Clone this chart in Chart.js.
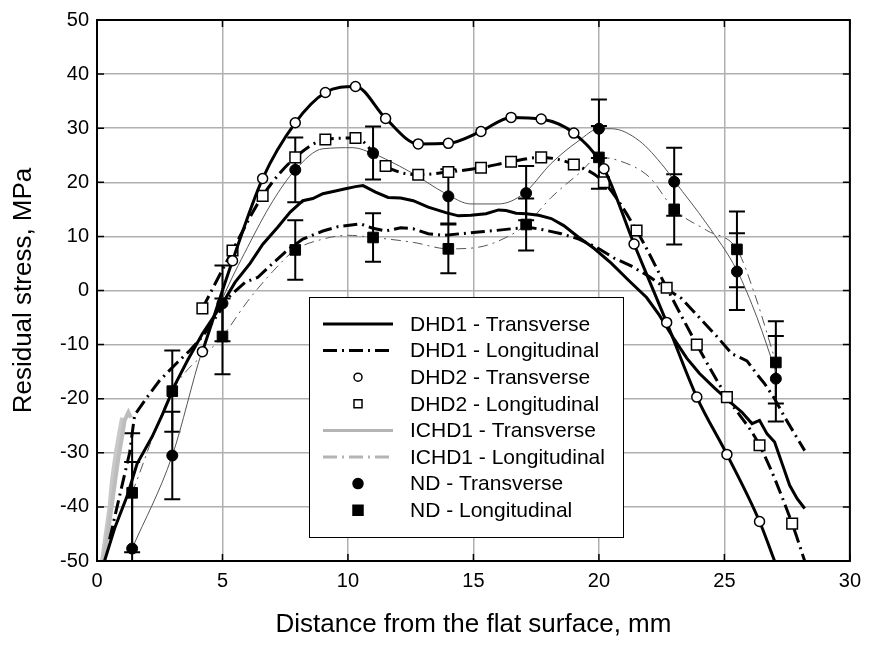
<!DOCTYPE html>
<html>
<head>
<meta charset="utf-8">
<script src="https://cdn.jsdelivr.net/npm/chart.js@4"></script>
<style>
html, body { margin: 0; padding: 0; background: #fff; }
</style>
</head>
<body>
<canvas id="myChart" width="869" height="648"></canvas>
<script>
// values (x = distance, mm; y = residual stress, MPa)
const dhd1TransX = [0.3, 0.7, 1.2, 1.6, 2.2, 2.6, 3.1, 3.6, 4.2, 5, 5.5, 6.1, 6.6, 7.2, 7.7, 8.2, 8.6, 9, 9.5, 9.9, 10.3, 10.6, 11.1, 11.6, 12.1, 12.6, 13.2, 13.9, 14.4, 14.9, 15.5, 16, 16.3, 16.7, 17.1, 17.6, 18.1, 18.6, 19.2, 19.8, 20.5, 21.2, 21.9, 22.4, 23, 23.5, 24, 24.6, 25.3, 25.7, 26.1, 26.4, 26.7, 27, 27.3, 27.6, 27.9, 28.2];
const dhd1TransY = [-50, -44, -38, -32, -27, -23, -17.5, -13, -8, -2.4, 1.5, 5, 8.5, 11.7, 14.5, 16.6, 17, 17.9, 18.4, 18.8, 19.2, 19.4, 18.2, 17.2, 17.1, 16.6, 15.4, 14.4, 13.8, 13.9, 14.2, 14.9, 14.8, 14.3, 14.2, 13.9, 13.3, 12, 9.8, 7.8, 5, 1.8, -1.3, -4.5, -9, -12.5, -15.3, -18, -20.9, -22.5, -24.6, -24, -26.5, -28, -32, -36, -38.5, -40.3];

const dhd1LongX = [0.5, 0.9, 1.3, 1.5, 2, 2.5, 3.2, 3.7, 4.2, 4.8, 5.3, 5.9, 6.4, 7, 7.6, 8.2, 9, 9.6, 10.5, 11, 11.5, 12.1, 12.6, 13.2, 13.8, 14.5, 15.2, 15.9, 16.5, 17.2, 17.8, 18.5, 19.2, 19.9, 20.6, 21.3, 22, 22.6, 23.3, 24, 24.7, 25.3, 25.9, 26.3, 26.6, 27, 27.4, 27.8, 28.2];
const dhd1LongY = [-46, -38, -30, -23, -19.7, -16.6, -13.3, -11.1, -8.5, -4.5, -1, 1.5, 2.4, 5, 7.5, 9.5, 11, 11.8, 12.3, 11.5, 11, 11.6, 11.4, 10.5, 10.2, 10.5, 10.8, 11.1, 11.4, 11.7, 11.2, 10.5, 9.5, 8, 6, 4.5, 2.6, 0.6, -1.5, -5, -8.5, -11.7, -13, -15.5, -17.2, -20, -23.4, -26.5, -29.6];

const dhd2TransX = [4.2, 5.4, 6.6, 7.9, 9.1, 10.3, 11.5, 12.8, 14, 15.3, 16.5, 17.7, 19, 20.2, 21.4, 22.7, 23.9, 25.1, 26.4, 27];
const dhd2TransY = [-11.3, 5.5, 20.7, 31, 36.6, 37.7, 31.8, 27.1, 27.2, 29.4, 32, 31.7, 29.1, 22.5, 8.6, -5.9, -19.7, -30.3, -42.7, -50];

const dhd2LongX = [4.2, 5.4, 6.6, 7.9, 9.1, 10.3, 11.5, 12.8, 14, 15.3, 16.5, 17.7, 19, 20.2, 21.5, 22.7, 23.9, 25.1, 26.4, 27.7, 28.2];
const dhd2LongY = [-3.3, 7.4, 17.5, 24.6, 27.9, 28.2, 23, 21.4, 21.9, 22.7, 23.8, 24.6, 23.3, 20, 11.1, 0.5, -10, -19.7, -28.6, -43.1, -50];

const ichd1TransX = [1.4, 3, 4.2, 5, 6, 7, 7.9, 9, 10.2, 11, 11.5, 12.6, 13.9, 14.9, 16, 17, 18.1, 19.2, 20, 20.5, 21.6, 22.6, 23, 24.3, 25.5, 26.3, 27.05];
const ichd1TransY = [-47.7, -30.5, -11, -1.5, 8, 16.5, 22.3, 26.2, 26.4, 25.3, 24.3, 21.6, 17.9, 16, 16, 17.9, 23.5, 27.7, 29.9, 29.9, 27.7, 22.8, 20.3, 12.3, 3.7, -5, -15];

const ichd1LongX = [1.4, 3, 5, 6, 7, 7.9, 9, 10, 11, 12.6, 14, 15.2, 16.3, 17.1, 18.1, 19.2, 20, 20.8, 22, 23, 24.3, 25.5, 26.2, 27.05];
const ichd1LongY = [-37.4, -18.6, -8.5, -2, 3.5, 7.5, 9.5, 10.2, 9.8, 8.9, 7.7, 8, 9.8, 12.2, 17.2, 21.6, 24.6, 24, 21, 15, 11.1, 7.6, -0.6, -13.3];

// thick grey start of the ICHD1 curves near the surface
const ichd1TransStartX = [0.25, 0.4, 0.55, 0.7, 0.85, 1, 1.1, 1.25, 1.35];
const ichd1TransStartY = [-50, -46, -41, -36, -31, -27, -24, -22.5, -23.5];
const ichd1LongStartX = [0.2, 0.35, 0.5, 0.6, 0.75, 0.9, 1];
const ichd1LongStartY = [-50, -45, -40, -35, -30, -26, -23.5];

const ndX = [1.4, 3, 5, 7.9, 11, 14, 17.1, 20, 23, 25.5, 27.05];
const ndTrans = [-47.7, -30.5, -2.4, 22.3, 25.4, 17.4, 18, 29.9, 20.1, 3.5, -16.3];
const ndTransErr = [16, 8.1, 7, 6, 4.9, 5, 5, 5.4, 6.3, 7.1, 7.9];
const ndLong = [-37.4, -18.6, -8.5, 7.5, 9.8, 7.7, 12.2, 24.6, 15, 7.6, -13.3];
const ndLongErr = [11, 7.5, 7, 5.5, 4.5, 4.5, 4.8, 5.8, 6.5, 7, 7.6];

const seriesNames = ['DHD1 - Transverse', 'DHD1 - Longitudinal', 'DHD2 - Transverse', 'DHD2 - Longitudinal',
    'ICHD1 - Transverse', 'ICHD1 - Longitudinal', 'ND - Transverse', 'ND - Longitudinal'];

const xTicks = [0, 5, 10, 15, 20, 25, 30];
const yTicks = [-50, -40, -30, -20, -10, 0, 10, 20, 30, 40, 50];

function pts(xs, ys) {
    return xs.map((x, i) => ({ x: x, y: ys[i] }));
}

const dashDot = [14, 5, 2, 5];
const thinDashDot = [10, 5, 2, 5];
const fontName = '"Liberation Sans", Arial, sans-serif';

// error bars for the ND points
const errorBars = {
    id: 'errorBars',
    beforeDatasetsDraw(chart) {
        const ctx = chart.ctx;
        const xs = chart.scales.x, ys = chart.scales.y;
        const area = chart.chartArea;
        ctx.save();
        ctx.beginPath();
        ctx.rect(area.left, area.top, area.right - area.left, area.bottom - area.top);
        ctx.clip();
        ctx.strokeStyle = '#000';
        ctx.lineWidth = 2;
        const sets = [[ndTrans, ndTransErr], [ndLong, ndLongErr]];
        sets.forEach(function (s) {
            ndX.forEach(function (x, i) {
                const px = xs.getPixelForValue(x);
                const top = ys.getPixelForValue(s[0][i] + s[1][i]);
                const bot = ys.getPixelForValue(s[0][i] - s[1][i]);
                ctx.beginPath();
                ctx.moveTo(px, top); ctx.lineTo(px, bot);
                ctx.moveTo(px - 8, top); ctx.lineTo(px + 8, top);
                ctx.moveTo(px - 8, bot); ctx.lineTo(px + 8, bot);
                ctx.stroke();
            });
        });
        ctx.restore();
    }
};

// frame, inner ticks and the boxed legend
const frameAndLegend = {
    id: 'frameAndLegend',
    afterDraw(chart) {
        const ctx = chart.ctx;
        const a = chart.chartArea;
        const xs = chart.scales.x, ys = chart.scales.y;
        ctx.save();
        ctx.strokeStyle = '#000';
        ctx.lineWidth = 1.5;
        ctx.beginPath();
        xTicks.forEach(function (v) {
            const px = xs.getPixelForValue(v);
            ctx.moveTo(px, a.bottom); ctx.lineTo(px, a.bottom - 7);
            ctx.moveTo(px, a.top); ctx.lineTo(px, a.top + 7);
        });
        yTicks.forEach(function (v) {
            const py = ys.getPixelForValue(v);
            ctx.moveTo(a.left, py); ctx.lineTo(a.left + 7, py);
            ctx.moveTo(a.right, py); ctx.lineTo(a.right - 7, py);
        });
        ctx.stroke();
        ctx.lineWidth = 2;
        ctx.strokeRect(a.left, a.top, a.right - a.left, a.bottom - a.top);

        // legend box
        const bx = a.left + 212, by = a.top + 277, bw = 314, bh = 240;
        ctx.fillStyle = '#fff';
        ctx.fillRect(bx, by, bw, bh);
        ctx.lineWidth = 1;
        ctx.strokeStyle = '#000';
        ctx.strokeRect(bx + 0.5, by + 0.5, bw, bh);

        const rowH = 26.6;
        const x1 = bx + 14, x2 = bx + 84, mx = bx + 49, tx = bx + 101;
        ctx.font = '21px ' + fontName;
        ctx.textBaseline = 'middle';
        ctx.textAlign = 'left';
        seriesNames.forEach(function (name, i) {
            const cy = by + 27 + i * rowH;
            ctx.save();
            if (i === 0 || i === 1 || i === 4 || i === 5) {
                ctx.strokeStyle = (i < 4) ? '#000' : '#b4b4b4';
                ctx.lineWidth = 3;
                ctx.setLineDash((i === 1 || i === 5) ? dashDot : []);
                ctx.beginPath();
                ctx.moveTo(x1, cy); ctx.lineTo(x2, cy);
                ctx.stroke();
            } else {
                ctx.strokeStyle = '#000';
                ctx.lineWidth = 1.5;
                ctx.fillStyle = (i < 4) ? '#fff' : '#000';
                ctx.beginPath();
                if (i === 2) ctx.arc(mx, cy, 4, 0, Math.PI * 2);
                if (i === 3) ctx.rect(mx - 4, cy - 4, 8, 8);
                if (i === 6) ctx.arc(mx, cy, 5, 0, Math.PI * 2);
                if (i === 7) ctx.rect(mx - 5, cy - 5, 10, 10);
                ctx.fill();
                ctx.stroke();
            }
            ctx.restore();
            ctx.fillStyle = '#000';
            ctx.fillText(name, tx, cy + 1);
        });
        ctx.restore();
    }
};

const lastT = dhd2TransX.length - 1;
const lastL = dhd2LongX.length - 1;

const ctx = document.getElementById('myChart').getContext('2d');
const myChart = new Chart(ctx, {
    type: 'scatter',
    data: {
        datasets: [
            {
                label: seriesNames[6],
                data: pts(ndX, ndTrans),
                showLine: false,
                pointStyle: 'circle',
                pointRadius: 5.5,
                backgroundColor: '#000',
                borderColor: '#000'
            },
            {
                label: seriesNames[7],
                data: pts(ndX, ndLong),
                showLine: false,
                pointStyle: 'rect',
                pointRadius: 7.5,
                backgroundColor: '#000',
                borderColor: '#000'
            },
            {
                label: seriesNames[2],
                data: pts(dhd2TransX, dhd2TransY),
                showLine: true,
                cubicInterpolationMode: 'monotone',
                borderColor: '#000',
                borderWidth: 3,
                pointStyle: 'circle',
                pointRadius: (c) => c.dataIndex === lastT ? 0 : 5,
                pointBorderWidth: 1.5,
                pointBackgroundColor: '#fff',
                pointBorderColor: '#000'
            },
            {
                label: seriesNames[3],
                data: pts(dhd2LongX, dhd2LongY),
                showLine: true,
                cubicInterpolationMode: 'monotone',
                borderColor: '#000',
                borderWidth: 3,
                borderDash: dashDot,
                pointStyle: 'rect',
                pointRadius: (c) => c.dataIndex === lastL ? 0 : 7.5,
                pointBorderWidth: 1.5,
                pointBackgroundColor: '#fff',
                pointBorderColor: '#000'
            },
            {
                label: seriesNames[0],
                data: pts(dhd1TransX, dhd1TransY),
                showLine: true,
                borderColor: '#000',
                borderWidth: 3,
                pointRadius: 0
            },
            {
                label: seriesNames[1],
                data: pts(dhd1LongX, dhd1LongY),
                showLine: true,
                borderColor: '#000',
                borderWidth: 3,
                borderDash: dashDot,
                pointRadius: 0
            },
            {
                label: seriesNames[4],
                data: pts(ichd1TransX, ichd1TransY),
                showLine: true,
                cubicInterpolationMode: 'monotone',
                borderColor: '#555',
                borderWidth: 1,
                pointRadius: 0
            },
            {
                label: seriesNames[5],
                data: pts(ichd1LongX, ichd1LongY),
                showLine: true,
                cubicInterpolationMode: 'monotone',
                borderColor: '#555',
                borderWidth: 1,
                borderDash: thinDashDot,
                pointRadius: 0
            },
            {
                label: 'ICHD1 start T',
                data: pts(ichd1TransStartX, ichd1TransStartY),
                showLine: true,
                borderColor: '#bdbdbd',
                borderWidth: 4,
                pointRadius: 0
            },
            {
                label: 'ICHD1 start L',
                data: pts(ichd1LongStartX, ichd1LongStartY),
                showLine: true,
                borderColor: '#c8c8c8',
                borderWidth: 4,
                pointRadius: 0
            }
        ]
    },
    options: {
        responsive: false,
        animation: false,
        layout: { padding: { top: 18, right: 16, left: 0, bottom: 0 } },
        plugins: {
            legend: { display: false },
            tooltip: { enabled: false }
        },
        scales: {
            x: {
                type: 'linear',
                min: 0,
                max: 30,
                afterFit: function (scale) { scale.height = 87; },
                afterBuildTicks: function (scale) { scale.ticks = xTicks.map(v => ({ value: v })); },
                grid: { color: '#b0b0b0', lineWidth: 1.5, drawTicks: false },
                border: { display: false },
                ticks: { color: '#000', padding: 8, font: { family: fontName, size: 20 } },
                title: {
                    display: true,
                    text: 'Distance from the flat surface, mm',
                    color: '#000',
                    font: { family: fontName, size: 26 },
                    padding: { top: 0, bottom: 8 }
                }
            },
            y: {
                type: 'linear',
                min: -50,
                max: 50,
                afterFit: function (scale) { scale.width = 97; },
                afterBuildTicks: function (scale) { scale.ticks = yTicks.map(v => ({ value: v })); },
                grid: { color: '#b0b0b0', lineWidth: 1.5, drawTicks: false },
                border: { display: false },
                ticks: { color: '#000', padding: 8, font: { family: fontName, size: 20 } },
                title: {
                    display: true,
                    text: 'Residual stress, MPa',
                    color: '#000',
                    font: { family: fontName, size: 26 },
                    padding: { top: 8, bottom: 0 }
                }
            }
        }
    },
    plugins: [errorBars, frameAndLegend]
});
</script>
</body>
</html>
